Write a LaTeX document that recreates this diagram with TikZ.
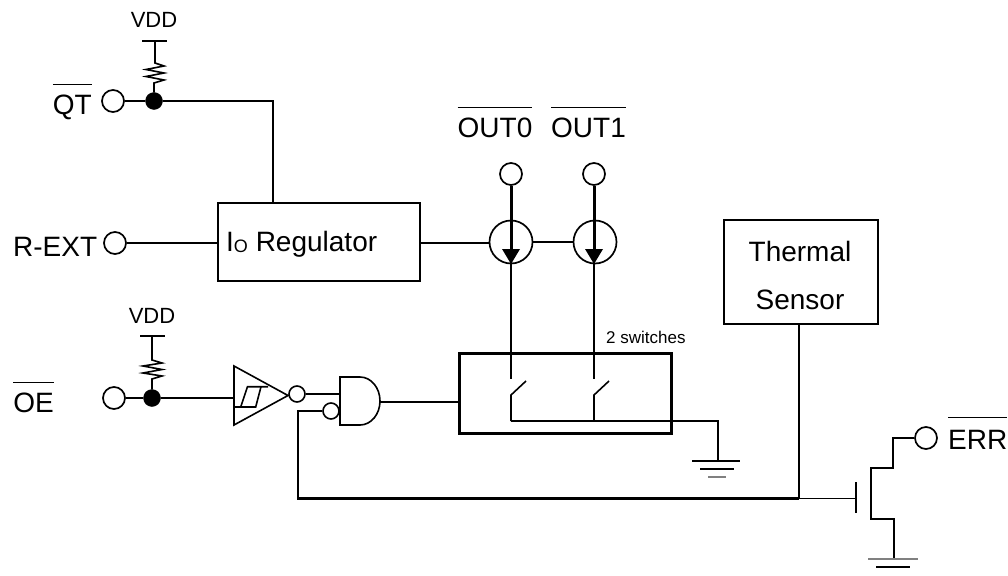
\documentclass[tikz,border=0pt]{standalone}
\usepackage{fontspec}
\setmainfont{Liberation Sans}
\newcommand\ovl[2][29pt]{\setbox0\hbox{#2}\rlap{\raisebox{#1}{\rule{\wd0}{1.3pt}}}\box0}
\newcommand\bigf{\fontsize{28}{30}\selectfont}
\newcommand\midf{\fontsize{22}{24}\selectfont}
\newcommand\smlf{\fontsize{17}{19}\selectfont}
\tikzset{
  wire/.style={line width=1.6pt,line join=miter},
  heavy/.style={line width=3pt},
  pinc/.style={circle,draw,line width=1.7pt,minimum size=22pt,inner sep=0pt,fill=white},
  bubble/.style={circle,draw,line width=1.6pt,minimum size=16pt,inner sep=0pt,fill=white},
  dotc/.style={circle,fill=black,draw=black,minimum size=17pt,inner sep=0pt},
  bjt/.style={circle,draw,line width=1.7pt,minimum size=43pt,inner sep=0pt},
  lab/.style={inner sep=0pt,font=\bigf},
  blk/.style={draw,line width=1.8pt,inner sep=0pt,anchor=north west},
  gnd/.style={line width=1.5pt},
  gndg/.style={line width=1.5pt,draw=black!50},
}
\begin{document}
\begin{tikzpicture}[x=1pt,y=-1pt]
\useasboundingbox (0,0) rectangle (1008,575);
% blocks
\node[blk,minimum width=202pt,minimum height=78pt] (reg) at (217,202) {};
\node[inner sep=0pt,anchor=base west,font=\bigf] (regt) at (226,251) {I\raisebox{-1pt}{\fontsize{18}{19}\selectfont O} Regulator};
\node[blk,minimum width=154pt,minimum height=104pt] (therm) at (723,219) {};
\node[lab,anchor=base] (tt) at (800,261) {Thermal};
\node[lab,anchor=base] (ts) at (800,309) {Sensor};
\node[blk,line width=2.6pt,minimum width=212pt,minimum height=80pt] (sw) at (458,352) {};
\node[inner sep=0pt,anchor=base west,font=\smlf] (swt) at (606,343) {2 switches};
% pins and labels
\node[pinc] (qt) at (113,101) {};
\node[pinc] (rext) at (115,243) {};
\node[pinc] (oe) at (114,398) {};
\node[pinc] (o0) at (511,174) {};
\node[pinc] (o1) at (594,174) {};
\node[pinc] (err) at (926,438) {};
\node[lab,anchor=base east] (qtt) at (92,114) {\ovl{QT}};
\node[lab,anchor=base west] (rt) at (13,256) {R-EXT};
\node[lab,anchor=base east] (oet) at (54,412) {\ovl{OE}};
\node[lab,anchor=base] (o0t) at (495,137) {\ovl{OUT0}};
\node[lab,anchor=base] (o1t) at (588.5,137) {\ovl{OUT1}};
\node[lab,anchor=base west] (errt) at (948,449) {\ovl[31pt]{ERR}};
% VDD 1
\node[inner sep=0pt,anchor=base,font=\midf] (v1) at (154,28) {VDD};
\node[dotc] (d1) at (154,101) {};
\draw[wire] (142,41) -- (167,41);
\draw[wire] (155,41) -- (155,63) -- (164,66) -- (146,69.5) -- (164,73) -- (146,76.5) -- (164,80) -- (154,83) -- (d1);
\draw[wire] (qt) -- (d1);
\coordinate (regq) at (273,202);
\draw[wire] (d1) -| (regq);
\draw[wire] (rext) -- (rext -| reg.west);
% VDD 2
\node[inner sep=0pt,anchor=base,font=\midf] (v2) at (152,323) {VDD};
\node[dotc] (d2) at (152,398) {};
\draw[wire] (140,336) -- (165,336);
\draw[wire] (152,336) -- (152,360) -- (162,363) -- (143,366) -- (162,369.5) -- (143,373) -- (162,376) -- (152,379) -- (d2);
\draw[wire] (oe) -- (d2);
% buffer
\coordinate (bufin) at (234,398);
\draw[wire] (d2) -- (bufin);
\draw[wire] (234,366) -- (288,395.5) -- (234,425) -- cycle;
\draw[wire] (234,407) -- (255.7,407) -- (261,386.7);
\draw[wire] (268,386.7) -- (247.5,386.7) -- (240.7,407);
\node[bubble] (b1) at (297,394) {};
% AND
\draw[wire] (360,377) -- (340,377) -- (340,425) -- (360,425);
\draw[wire] (360,377) arc[start angle=90,end angle=-90,x radius=20pt,y radius=24pt];
\coordinate (andin) at (340,394);
\coordinate (andout) at (380,402);
\node[bubble] (b2) at (331,411) {};
\draw[wire] (b1) -- (andin);
\draw[wire] (andout) -- (andout -| sw.west);
% current sinks
\node[bjt] (q0) at (511,242) {};
\node[bjt] (q1) at (595,242) {};
\coordinate (regout) at (419,243);
\draw[wire] (regout) -- (q0.west |- regout);
\draw[wire] (q0) -- (q1);
\foreach \n/\p/\x in {o0/a0/511,o1/a1/594}{
  \draw[heavy] (\n.south) -- (\x,250);
  \fill (\x-9,249) -- (\x+9,249) -- (\x,264) -- cycle;
  \draw[wire] (\x,262) -- (\x,352);
  \draw[wire] (\x,355) -- (\x,379);
  \draw[wire] (\x+15,381) -- (\x,395) -- (\x,421);
}
% ground bus
\coordinate (g1) at (718,461);
\draw[wire,line width=2.4pt] (511,421) -- (718,421) -- (g1);
\draw[gnd] (692,461) -- (740,461);
\draw[gnd] (700,469) -- (734,469);
\draw[gndg] (708,477) -- (726,477);
% feedback and fet
\coordinate (gate) at (856,498.5);
\coordinate (fb) at (799,498.5);
\draw[wire,line width=2.2pt] (b2) -- (298,411) -- (298,498.5) -- (fb);
\draw[wire,line width=2.2pt] (therm.south -| fb) -- (fb);
\draw[wire] (fb) -- (gate);
\draw[wire] (856,482) -- (856,513);
\draw[wire,line width=2pt] (err) -- (893,438) -- (893,468) -- (871,468) -- (871,519) -- (894,519) -- (894,559);
\draw[gndg] (868,559) -- (918,559);
\draw[gnd] (876,567) -- (910,567);
\end{tikzpicture}
\end{document}
